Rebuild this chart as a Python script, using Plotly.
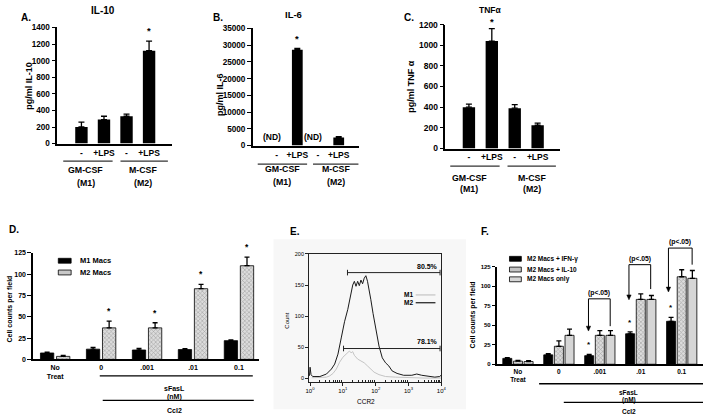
import numpy as np
import plotly.graph_objects as go

W, H = 708, 420
FONT = "Liberation Sans, Arial, Helvetica, sans-serif"

# ---------------- data ----------------
# Panels A-C : cytokine secretion (pg/ml)
abc_keys = ["GM-CSF (M1) -", "GM-CSF (M1) +LPS", "M-CSF (M2) -", "M-CSF (M2) +LPS"]
abc_ticks = ["-", "+LPS", "-", "+LPS"]
il10 = [200, 290, 330, 1120]
il10_err = [60, 40, 25, 115]
il6 = [None, 28600, None, 2400]          # None = not detected (ND)
il6_err = [0, 400, 0, 300]
tnf = [400, 1040, 390, 225]
tnf_err = [30, 120, 35, 20]

# Panel D : migration, M1 vs M2 macrophages
d_cats = ["No Treat", "0", ".001", ".01", "0.1"]
d_ticks = ["No<br>Treat", "0", ".001", ".01", "0.1"]
m1_macs = [7.5, 12, 11, 11.5, 22]
m1_err = [1, 2, 2, 1, 1]
m2_macs = [3.5, 37, 37, 83, 110]
m2_err = [1, 8, 6, 5, 10]
d_legend = ["M1 Macs", "M2 Macs"]

# Panel E : CCR2 flow histogram (x in log10 decades of CCR2 intensity)
e_m2_logx = [-0.02, 0.0, 0.03, 0.08, 0.15, 0.30, 0.50, 0.65, 0.75, 0.85, 0.95, 1.05,
             1.15, 1.20, 1.25, 1.30, 1.35, 1.40, 1.45, 1.50, 1.55, 1.60, 1.65, 1.70,
             1.75, 1.80, 1.85, 1.92, 2.00, 2.10, 2.20, 2.30, 2.40, 2.50, 2.65, 2.85,
             3.10, 3.25, 3.40, 3.60, 3.80, 3.95, 3.99]
e_m2_count = [4, 18, 6, 3, 3, 3, 7, 15, 23, 39, 65, 91,
              111, 125, 137, 150, 156, 148, 156, 149, 158, 152, 161, 165,
              156, 143, 127, 104, 78, 52, 33, 25, 20, 12, 8, 5,
              5, 7, 5, 3, 2, 3, 5]
e_m1_logx = [0.05, 0.30, 0.50, 0.60, 0.70, 0.80, 0.90, 1.00, 1.08, 1.15, 1.20, 1.25,
             1.30, 1.35, 1.45, 1.55, 1.65, 1.75, 1.85, 1.95, 2.10, 2.30, 2.60, 3.00,
             3.50, 3.99]
e_m1_count = [1, 1, 2, 4, 8, 15, 26, 34, 38, 41, 44, 41,
              43, 37, 31, 28, 25, 20, 15, 10, 6, 3, 2, 1,
              0.5, 0.5]
gate_m2_logx = [1.14, 3.96]
gate_m2_y = 170
gate_m1_logx = [1.02, 3.96]
gate_m1_y = 48
gate_labels = ["80.5%", "78.1%"]
e_legend = ["M1", "M2"]

# Panel F : M2 macrophage migration after polarising treatment
f_cats = ["No Treat", "0", ".001", ".01", "0.1"]
f_ticks = ["No<br>Treat", "0", ".001", ".01", "0.1"]
f_ifn = [7.5, 12, 11, 39, 55]
f_ifn_err = [1, 1.5, 1.5, 2.5, 5]
f_il10 = [4, 23, 37, 83, 112]
f_il10_err = [1, 7, 6, 7, 9]
f_only = [3.5, 37, 37, 83, 110]
f_only_err = [1, 8, 6, 5, 10]
f_legend = ["M2 Macs + IFN-γ", "M2 Macs + IL-10", "M2 Macs only"]
f_pval = "(p&lt;.05)"


# ---------------- helpers ----------------
def fx(x):
    return x / W


def fy(y):
    return 1 - y / H


def err(arr, cap=3):
    return dict(type="data", array=arr, arrayminus=[0] * len(arr), symmetric=False,
                color="black", thickness=1.3, width=cap)


def fnt(size, bold=True, color="black"):
    return dict(family=FONT, size=size, color=color, weight="bold" if bold else "normal")


annotations = []
shapes = []


def txt(s, x, y, size, bold=True, xanchor="center", angle=0):
    annotations.append(dict(text=s, x=fx(x), y=fy(y), xref="paper", yref="paper",
                            xanchor=xanchor, yanchor="middle", showarrow=False,
                            textangle=angle, font=fnt(size, bold)))


def hline(x0, x1, y, w=1.3, color="black"):
    shapes.append(dict(type="line", xref="paper", yref="paper", x0=fx(x0), x1=fx(x1),
                       y0=fy(y), y1=fy(y), line=dict(color=color, width=w)))


def vline(x, y0, y1, w=1.0):
    shapes.append(dict(type="line", xref="paper", yref="paper", x0=fx(x), x1=fx(x),
                       y0=fy(y0), y1=fy(y1), line=dict(color="black", width=w)))


def arrowhead(x, y, hw=2.2, hl=5):
    shapes.append(dict(type="path", xref="paper", yref="paper",
                       path=f"M {fx(x - hw)},{fy(y - hl)} L {fx(x)},{fy(y)} L {fx(x + hw)},{fy(y - hl)} Z",
                       fillcolor="black", line=dict(color="black", width=0.5)))


def box(x0, x1, y0, y1, fill, lw=0.8):
    shapes.append(dict(type="rect", xref="paper", yref="paper", x0=fx(x0), x1=fx(x1),
                       y0=fy(y1), y1=fy(y0), fillcolor=fill,
                       line=dict(color="black", width=lw)))


def star(xref, yref, x, y, size, shift):
    annotations.append(dict(text="*", x=x, y=y, xref=xref, yref=yref, yanchor="bottom",
                            yshift=shift, showarrow=False, font=fnt(size)))


HATCH = dict(shape="x", fgcolor="#666666", bgcolor="#dcdcdc", size=3, solidity=0.35)

fig = go.Figure()

# ---------------- traces ----------------
fig.add_trace(go.Bar(x=abc_keys, y=il10, error_y=err(il10_err), width=0.55,
                     marker=dict(color="black", line=dict(width=0)), xaxis="x", yaxis="y"))
fig.add_trace(go.Bar(x=abc_keys, y=il6, error_y=err(il6_err), width=0.52,
                     marker=dict(color="black", line=dict(width=0)), xaxis="x2", yaxis="y2"))
fig.add_trace(go.Bar(x=abc_keys, y=tnf, error_y=err(tnf_err), width=0.54,
                     marker=dict(color="black", line=dict(width=0)), xaxis="x3", yaxis="y3"))

D_W = 0.29
D_OFF = [-0.32, 0.03]
fig.add_trace(go.Bar(x=d_cats, y=m1_macs, error_y=err(m1_err, 2.5), width=D_W, offset=D_OFF[0],
                     marker=dict(color="black", line=dict(color="black", width=0.8)),
                     name=d_legend[0], xaxis="x4", yaxis="y4"))
fig.add_trace(go.Bar(x=d_cats, y=m2_macs, error_y=err(m2_err, 2.5), width=D_W, offset=D_OFF[1],
                     marker=dict(color="#dcdcdc", pattern=HATCH, line=dict(color="black", width=0.8)),
                     name=d_legend[1], xaxis="x4", yaxis="y4"))

fig.add_trace(go.Scatter(x=10 ** np.array(e_m1_logx), y=e_m1_count, mode="lines",
                         line=dict(color="#c4c4c4", width=1), name=e_legend[0],
                         xaxis="x5", yaxis="y5"))
fig.add_trace(go.Scatter(x=10 ** np.array(e_m2_logx), y=e_m2_count, mode="lines",
                         line=dict(color="#1a1a1a", width=1), name=e_legend[1],
                         xaxis="x5", yaxis="y5"))
for gx, gy in ((gate_m2_logx, gate_m2_y), (gate_m1_logx, gate_m1_y)):
    fig.add_trace(go.Scatter(x=10 ** np.array(gx), y=[gy, gy], mode="lines+markers",
                             line=dict(color="#222", width=1),
                             marker=dict(symbol="line-ns", size=4, line=dict(width=1, color="#222")),
                             xaxis="x5", yaxis="y5"))

F_W = 0.22
F_OFF = [-0.37, -0.11, 0.15]
fig.add_trace(go.Bar(x=f_cats, y=f_ifn, error_y=err(f_ifn_err, 2.5), width=F_W, offset=F_OFF[0],
                     marker=dict(color="black", line=dict(color="black", width=0.8)),
                     name=f_legend[0], xaxis="x6", yaxis="y6"))
fig.add_trace(go.Bar(x=f_cats, y=f_il10, error_y=err(f_il10_err, 2.5), width=F_W, offset=F_OFF[1],
                     marker=dict(color="#dcdcdc", pattern=HATCH, line=dict(color="black", width=0.8)),
                     name=f_legend[1], xaxis="x6", yaxis="y6"))
fig.add_trace(go.Bar(x=f_cats, y=f_only, error_y=err(f_only_err, 2.5), width=F_W, offset=F_OFF[2],
                     marker=dict(color="#d6d6d6", line=dict(color="black", width=0.8)),
                     name=f_legend[2], xaxis="x6", yaxis="y6"))


# ---------------- axes ----------------
def xcat(px0, px1, rng, ticktext, tickvals, size, anchor):
    return dict(domain=[fx(px0), fx(px1)], range=rng, type="category", anchor=anchor,
                showline=True, linecolor="black", linewidth=1.5, ticks="",
                tickvals=tickvals, ticktext=ticktext, tickfont=fnt(size),
                showgrid=False, zeroline=False, fixedrange=True)


def ylin(py0, py1, rng, dtick, size, anchor, ticklen=4):
    return dict(domain=[fy(py1), fy(py0)], range=rng, dtick=dtick, tick0=0, anchor=anchor,
                showline=True, linecolor="black", linewidth=1.5, ticks="outside",
                ticklen=ticklen, tickwidth=1.3, tickcolor="black", tickfont=fnt(size),
                showgrid=False, zeroline=False, fixedrange=True)


layout_axes = dict(
    xaxis=xcat(54, 170, [-1.07, 4.01], abc_ticks, abc_keys, 8.5, "y"),
    yaxis=ylin(23, 142, [0, 1400], 200, 8.2, "x"),
    xaxis2=xcat(252, 360, [-1.15, 4.0], abc_ticks, abc_keys, 8.5, "y2"),
    yaxis2=ylin(24, 144, [0, 35000], 5000, 8.2, "x2"),
    xaxis3=xcat(447, 563, [-1.03, 3.97], abc_ticks, abc_keys, 8.5, "y3"),
    yaxis3=ylin(20, 147, [0, 1200], 200, 8.5, "x3"),
    xaxis4=xcat(29, 258, [-0.49, 4.43], d_ticks, d_cats, 7, "y4"),
    yaxis4=ylin(254, 363, [0, 125], 25, 7, "x4", 3.5),
    xaxis6=xcat(499, 708, [-0.52, 4.52], f_ticks, f_cats, 6.5, "y6"),
    yaxis6=ylin(268, 368, [0, 125], 25, 6, "x6", 3),
)
layout_axes["yaxis2"]["tickformat"] = "d"

minor_vals = [m * 10 ** k for k in range(0, 4) for m in range(2, 10)]
layout_axes["xaxis5"] = dict(
    domain=[fx(309), fx(443)], type="log", range=[-0.03, 4.0], anchor="y5",
    showline=True, mirror=True, linecolor="#222", linewidth=1,
    tickvals=[1, 10, 100, 1000, 10000],
    ticktext=["10<sup>0</sup>", "10<sup>1</sup>", "10<sup>2</sup>", "10<sup>3</sup>", "10<sup>4</sup>"],
    ticks="outside", ticklen=3, tickcolor="#222", tickfont=fnt(6, False),
    minor=dict(tickvals=minor_vals, ticks="inside", ticklen=2, tickcolor="#222"),
    showgrid=False, zeroline=False, fixedrange=True)
layout_axes["yaxis5"] = dict(
    domain=[fy(386), fy(255)], range=[-5.5, 200], dtick=50, tick0=0, anchor="x5",
    showline=True, mirror=True, linecolor="#222", linewidth=1,
    ticks="outside", ticklen=3, tickcolor="#222", tickfont=fnt(5.5, False),
    showgrid=False, zeroline=False, fixedrange=True)

# ---------------- decorations ----------------
# faint photo background behind panel E
shapes.append(dict(type="rect", xref="paper", yref="paper", x0=fx(273), x1=fx(468),
                   y0=fy(414), y1=fy(240), fillcolor="#f7f7f7", line=dict(width=0),
                   layer="below"))

# panel letters and titles
for s, x, y in (("A.", 22, 13), ("B.", 217, 13), ("C.", 410, 13),
                ("D.", 10, 230), ("E.", 295, 232), ("F.", 487, 232)):
    txt(s, x, y, 10)
txt("IL-10", 100, 6, 10)
txt("IL-6", 293, 10, 9.5)
txt("TNFα", 493, 5, 8.5)

# y titles
txt("pg/ml IL-10", 25, 83, 9, angle=-90)
txt("pg/ml IL-6", 219, 92, 9, angle=-90)
txt("pg/ml TNF α", 412, 84, 9, angle=-90)
txt("Cell counts per field", 6, 311, 7, angle=-90)
txt("Count", 287, 323, 6, bold=False, angle=-90)
txt("Cell counts per field", 475, 317, 7, angle=-90)

# group labels A-C
for (l1, l2, x, y1, y2) in (("GM-CSF", "(M1)", 83, 169, 182), ("M-CSF", "(M2)", 141, 169, 182),
                            ("GM-CSF", "(M1)", 282, 168, 181), ("M-CSF", "(M2)", 336, 168, 181),
                            ("GM-CSF", "(M1)", 471, 177, 188), ("M-CSF", "(M2)", 535, 177, 188)):
    txt(l1, x, y1, 8.8)
    txt(l2, x, y2, 8.8)
for x0, x1, y in ((60, 110, 160), (118, 166, 160), (257, 307, 163), (313, 359, 163),
                  (452, 502, 165), (510, 559, 165)):
    hline(x0, x1, y, 1.3, "#333")

# (ND) labels in B
for k in (0, 2):
    annotations.append(dict(text="(ND)", x=abc_keys[k], y=0, xref="x2", yref="y2",
                            yanchor="bottom", yshift=2, xshift=-5, showarrow=False,
                            font=fnt(8.5)))

# stars A-C
star("x", "y", abc_keys[3], il10[3] + il10_err[3], 9.5, 3)
star("x2", "y2", abc_keys[1], il6[1] + il6_err[1], 9.5, 3)
star("x3", "y3", abc_keys[1], tnf[1] + tnf_err[1], 9.5, 0)

# D stars, legend, group lines
for i in (1, 2, 3, 4):
    star("x4", "y4", i + D_OFF[1] + D_W / 2, m2_macs[i] + m2_err[i], 8.5, 3)
box(55, 68, 259.5, 264.5, "black")
box(55, 68, 271.5, 276.5, "#c8c8c8")
txt(d_legend[0], 75, 262, 7.5, xanchor="left")
txt(d_legend[1], 75, 274, 7.5, xanchor="left")
hline(97, 252, 380)
hline(100, 253, 405)
txt("sFasL", 173, 393, 7)
txt("(nM)", 173, 402, 7)
txt("Ccl2", 173, 415, 7)

# E labels
txt("CCR2", 367, 406, 6.5, bold=False)
txt(gate_labels[0], 442, 268, 7, xanchor="right")
txt(gate_labels[1], 442, 345, 7, xanchor="right")
txt(e_legend[0], 403, 297, 6.5, xanchor="left")
txt(e_legend[1], 403, 305, 6.5, xanchor="left")
hline(417, 437, 297, 1.2, "#c4c4c4")
hline(417, 437, 305, 1.2, "#1a1a1a")

# F legend
box(512, 524, 257.5, 262.5, "black")
box(512, 524, 268.5, 273.5, "#c4c4c4")
box(512, 524, 278.5, 283.5, "#d6d6d6")
for s, y in zip(f_legend, (260, 271, 281)):
    txt(s, 528, y, 6.5, xanchor="left")
hline(542, 708, 388)
hline(567, 708, 407)
txt("sFasL", 633, 397, 6.5)
txt("(nM)", 633, 404.5, 6.5)
txt("Ccl2", 633, 416, 6.5)

# F stars and significance brackets
for i in (2, 3, 4):
    star("x6", "y6", i + F_OFF[0] + F_W / 2, f_ifn[i] + f_ifn_err[i], 8, 3)
for (lx, rx, top, tip, rb, ly) in ((592, 614, 301, 334, 329, 295),
                                    (633, 655, 266, 302, 291, 260),
                                    (673, 697, 249, 294, 266, 243)):
    hline(lx, rx, top, 1.0)
    vline(rx, top, rb, 1.0)
    vline(lx, top, tip - 3, 1.0)
    arrowhead(lx, tip)
    txt(f_pval, (lx + rx) / 2, ly, 6.8)

fig.update_layout(
    width=W, height=H, autosize=False,
    margin=dict(l=0, r=0, t=0, b=0),
    paper_bgcolor="white", plot_bgcolor="rgba(0,0,0,0)",
    barmode="overlay", showlegend=False,
    font=dict(family=FONT, color="black"),
    annotations=annotations, shapes=shapes,
    **layout_axes,
)

fig.write_html("out.html", config={"displayModeBar": False},
               post_script="document.body.style.margin='0';document.body.style.overflow='hidden';")
